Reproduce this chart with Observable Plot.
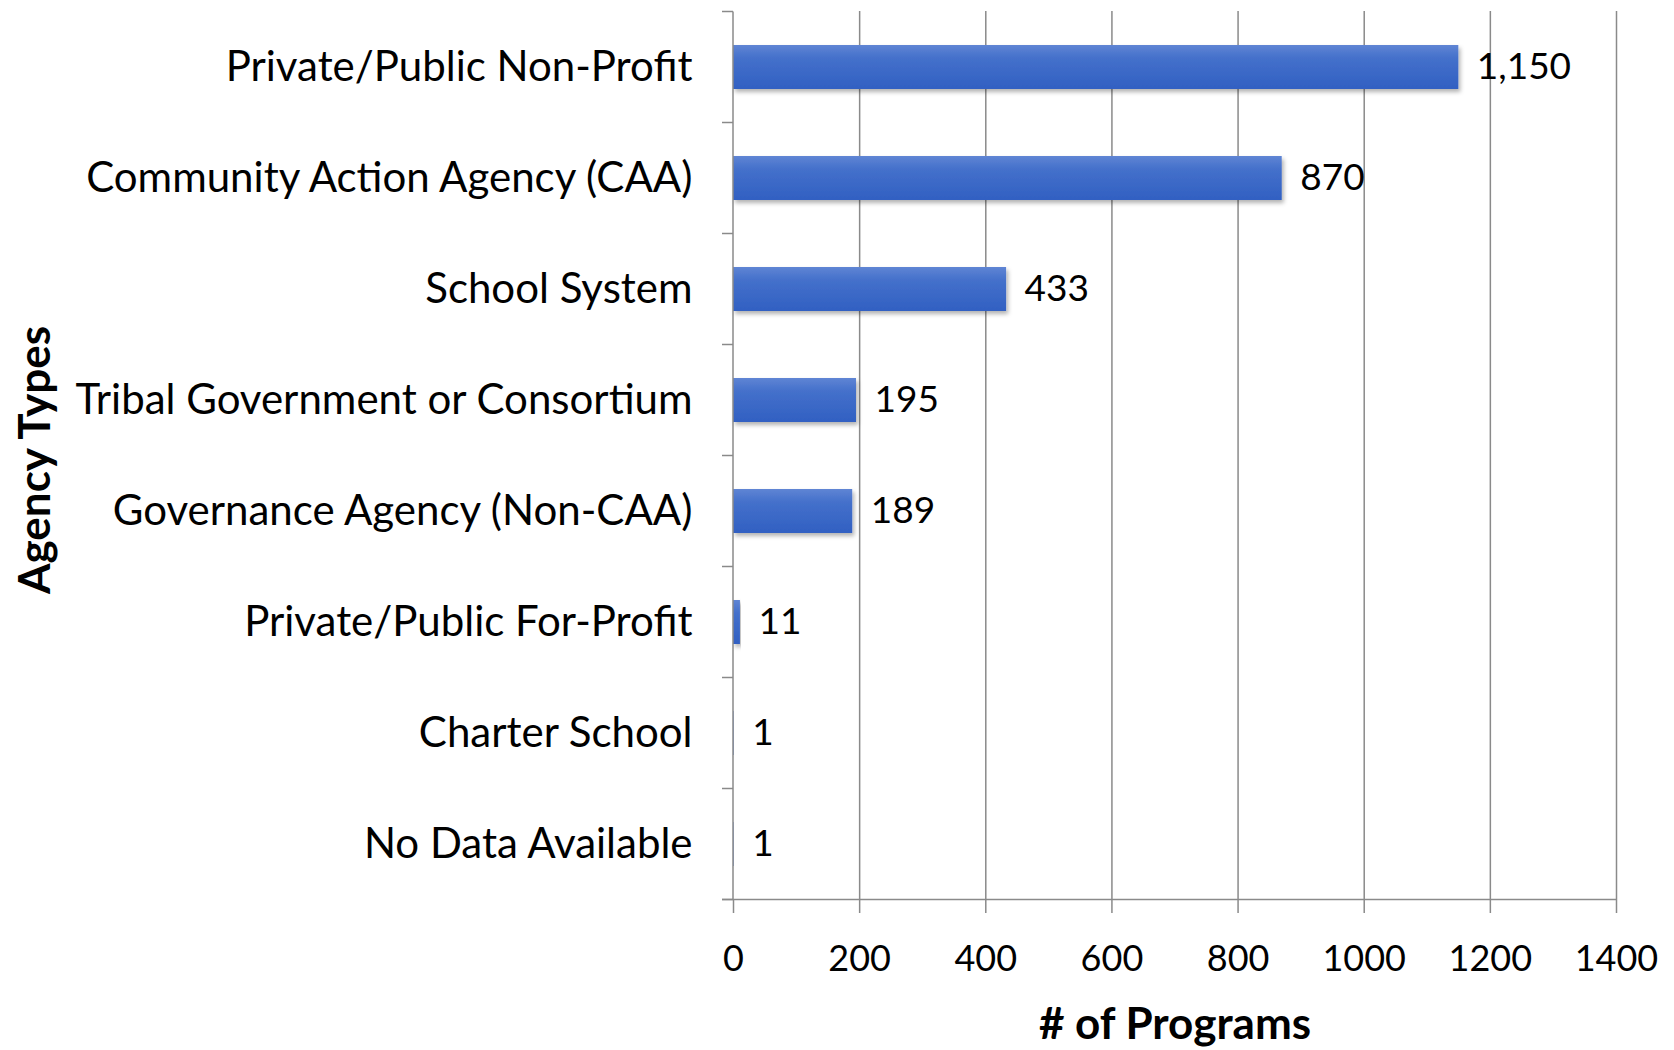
<!DOCTYPE html>
<html>
<head>
<meta charset="utf-8">
<script src="https://cdn.jsdelivr.net/npm/d3@7"></script>
<script src="https://cdn.jsdelivr.net/npm/@observablehq/plot@0.6"></script>
<style>
  html, body { margin: 0; padding: 0; background: #fff; }
  #chart svg { display: block; }
</style>
</head>
<body>
<div id="chart"></div>
<script>
const categories = [
  "Private/Public Non-Profit",
  "Community Action Agency (CAA)",
  "School System",
  "Tribal Government or Consortium",
  "Governance Agency (Non-CAA)",
  "Private/Public For-Profit",
  "Charter School",
  "No Data Available"
];
const values = [1150, 870, 433, 195, 189, 11, 1, 1];
const xTicks = [0, 200, 400, 600, 800, 1000, 1200, 1400];
const xLabel = "# of Programs";
const yLabel = "Agency Types";

const data = categories.map((c, i) => ({category: c, value: values[i]}));
const fmt = d3.format(",");
const axisGray = "#8a8a8a";

// defs: gradient + shadow filter for bars
function defsMark() {
  const g = d3.create("svg:g");
  const defs = g.append("defs");
  const lg = defs.append("linearGradient").attr("id", "barGrad")
    .attr("x1", 0).attr("y1", 0).attr("x2", 0).attr("y2", 1);
  lg.append("stop").attr("offset", "0%").attr("stop-color", "#5f85d4");
  lg.append("stop").attr("offset", "30%").attr("stop-color", "#4470cb");
  lg.append("stop").attr("offset", "100%").attr("stop-color", "#3160c2");
  const f = defs.append("filter").attr("id", "barShadow")
    .attr("x", "-5%").attr("y", "-20%").attr("width", "115%").attr("height", "150%");
  f.append("feDropShadow").attr("dx", 2).attr("dy", 3).attr("stdDeviation", 2)
    .attr("flood-color", "#000").attr("flood-opacity", 0.3);
  return g.node();
}

// frame: y axis line, band-boundary ticks, x baseline
function frameMark(index, scales, values, dims) {
  const y = scales.y, x = scales.x;
  const bw = y.bandwidth ? y.bandwidth() : 0;
  const pos = categories.map(c => y(c));
  const step = pos.length > 1 ? pos[1] - pos[0] : bw;
  const gap = step - bw;
  const bounds = pos.map(p => p - gap / 2);
  bounds.push(pos[pos.length - 1] + bw + gap / 2);
  const x0 = x(0);
  const tick = 11;
  const g = d3.create("svg:g").attr("stroke", axisGray).attr("stroke-width", 1.5).attr("fill", "none");
  g.append("line").attr("x1", x0).attr("x2", x0)
    .attr("y1", bounds[0]).attr("y2", bounds[bounds.length - 1]);
  for (const b of bounds) {
    g.append("line").attr("x1", x0 - tick).attr("x2", x0).attr("y1", b).attr("y2", b);
  }
  const yb = bounds[bounds.length - 1];
  g.append("line").attr("x1", x0 - tick).attr("x2", x(xTicks[xTicks.length - 1])).attr("y1", yb).attr("y2", yb);
  return g.node();
}

const chart = Plot.plot({
  width: 1674,
  height: 1050,
  marginLeft: 733,
  marginRight: 58,
  marginTop: 11,
  marginBottom: 150,
  style: {fontFamily: "Lato, 'Open Sans', sans-serif", color: "#000", background: "#fff"},
  x: {domain: [0, 1400]},
  y: {domain: categories, paddingInner: 0.6, paddingOuter: 0.3},
  marks: [
    defsMark,
    Plot.gridX(xTicks.filter(d => d > 0), {stroke: axisGray, strokeOpacity: 1, strokeWidth: 1.5}),
    Plot.barX(data, {x: "value", y: "category", fill: "url(#barGrad)"}),
    frameMark,
    Plot.axisX(xTicks, {
      tickSize: 13, tickPadding: 32, stroke: axisGray, strokeWidth: 1.5,
      fontSize: 36, label: null, tickFormat: d => String(d), fill: "#000"
    }),
    Plot.axisY({tickSize: 0, tickPadding: 41, fontSize: 42, label: null, fill: "#000"}),
    Plot.text(data, {
      x: "value", y: "category", text: d => fmt(d.value),
      textAnchor: "start", dx: 18, fontSize: 37, fill: "#000"
    }),
    Plot.text([xLabel], {frameAnchor: "bottom", dy: 138, fontSize: 44, fontWeight: "bold", fill: "#000"}),
    Plot.text([yLabel], {frameAnchor: "left", textAnchor: "middle", dx: -698, dy: 4, rotate: -90, fontSize: 44, fontWeight: "bold", fill: "#000"})
  ]
});

chart.querySelectorAll("rect").forEach(r => {
  if (r.getAttribute("fill") === "url(#barGrad)" || (r.parentNode && r.parentNode.getAttribute("fill") === "url(#barGrad)")) {
    r.setAttribute("filter", "url(#barShadow)");
  }
});
document.getElementById("chart").appendChild(chart);
</script>
</body>
</html>
